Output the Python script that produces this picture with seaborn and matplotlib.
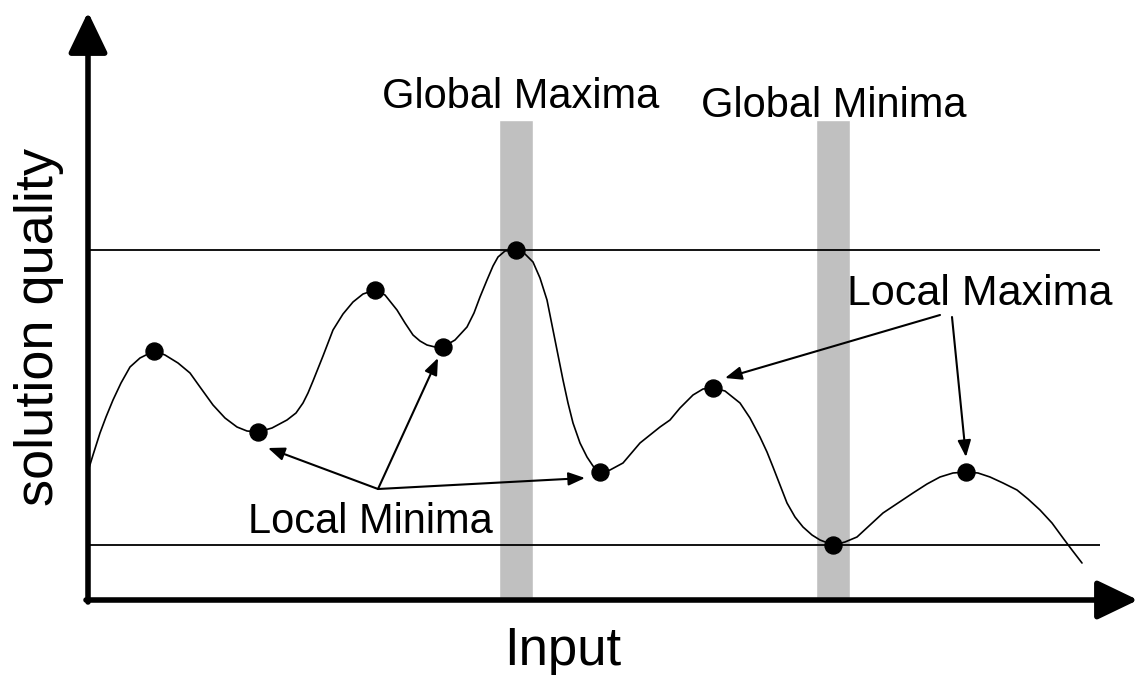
import matplotlib
matplotlib.use("Agg")
import matplotlib.pyplot as plt
import pandas as pd
import seaborn as sns

# curve (input, solution quality)
curve_input = [1, 5, 12, 18, 25, 33, 42, 52, 66, 77, 90, 102, 112, 125, 137, 149, 159, 170,
               184, 199, 208, 215, 220, 225, 235, 245, 255, 265, 275, 287, 297, 309, 317,
               325, 332, 339, 347, 355, 367, 379, 386, 392, 399, 405, 410, 417, 428, 435,
               445, 452, 459, 465, 470, 475, 480, 485, 492, 499, 505, 512, 522, 535, 552,
               572, 582, 592, 605, 615, 625, 637, 652, 662, 672, 679, 685, 692, 699, 707,
               715, 724, 732, 745, 757, 769, 782, 795, 810, 825, 839, 852, 865, 878, 890,
               902, 915, 929, 940, 952, 964, 975, 984, 994]
curve_quality = [132, 145, 167, 183, 200, 217, 233, 242, 249, 245, 237, 227, 213, 195, 182,
                 173, 169, 168, 172, 180, 187, 197, 207, 219, 244, 270, 286, 298, 306, 310,
                 305, 290, 277, 265, 259, 255, 253, 253, 260, 273, 287, 303, 320, 334, 343,
                 349, 350, 348, 338, 322, 300, 270, 245, 220, 197, 177, 157, 143, 134, 128,
                 130, 137, 157, 173, 180, 192, 205, 211, 212, 209, 197, 182, 163, 148, 133,
                 115, 97, 83, 73, 65, 60, 55, 58, 63, 75, 87, 97, 107, 116, 123, 127, 128,
                 127, 123, 117, 110, 101, 90, 77, 62, 50, 37]

# extrema marked with dots
point_input = [66, 170, 287, 355, 428, 512, 625, 745, 878]
point_quality = [249, 168, 310, 253, 350, 128, 212, 55, 128]

global_max_input, global_min_input = 428, 745
global_max_quality, global_min_quality = 350, 55

df_curve = pd.DataFrame({"input": curve_input, "quality": curve_quality})
df_points = pd.DataFrame({"input": point_input, "quality": point_quality})

sns.set_style("white")
plt.rcParams["font.family"] = ["Liberation Sans", "DejaVu Sans"]
plt.rcParams["text.color"] = "black"

fig = plt.figure(figsize=(11.39, 6.75), dpi=100)
ax = fig.add_axes([0, 0, 1, 1])
ax.set_xlim(-88, 1051)
ax.set_ylim(-75, 600)

# grey bands at the global extrema
ax.bar([global_max_input, global_min_input], 478, width=34, bottom=2,
       color="#C0C0C0", zorder=1)

# reference lines at global max / min
ax.hlines([global_max_quality, global_min_quality], 0, 1012, color="black", lw=1.3, zorder=2)

sns.lineplot(data=df_curve, x="input", y="quality", color="black", lw=1.2,
             sort=False, ax=ax, zorder=3)
sns.scatterplot(data=df_points, x="input", y="quality", color="black", s=150,
                edgecolor="black", ax=ax, zorder=4)
ax.axis("off")

# axes with arrow heads
big = dict(arrowstyle="-|>,head_length=1.25,head_width=0.6", lw=4, color="black",
           mutation_scale=20, shrinkA=0, shrinkB=0)
ax.annotate("", xy=(0, 588), xytext=(0, -2), arrowprops=big)
ax.annotate("", xy=(1050, 0), xytext=(-2, 0), arrowprops=big)

small = dict(arrowstyle="-|>,head_length=1.0,head_width=0.4", lw=1.5, color="black",
             mutation_scale=10, shrinkA=0, shrinkB=0)
for tip in [(180, 152), (350, 242), (497, 122)]:
    ax.annotate("", xy=tip, xytext=(290, 111), arrowprops=small)
ax.annotate("", xy=(637, 222), xytext=(852, 285), arrowprops=small)
ax.annotate("", xy=(878, 143), xytext=(864, 283), arrowprops=small)

ax.text(433, 492, "Global Maxima", fontsize=30, ha="center", va="baseline")
ax.text(746, 483, "Global Minima", fontsize=30, ha="center", va="baseline")
ax.text(892, 295, "Local Maxima", fontsize=31, ha="center", va="baseline")
ax.text(282, 67, "Local Minima", fontsize=30, ha="center", va="baseline")
ax.text(475, -65, "Input", fontsize=38, ha="center", va="baseline")
ax.text(-49, 273, "solution quality", fontsize=39, rotation=90, ha="center", va="center",
        color="black")

fig.savefig("out.png", dpi=100)
